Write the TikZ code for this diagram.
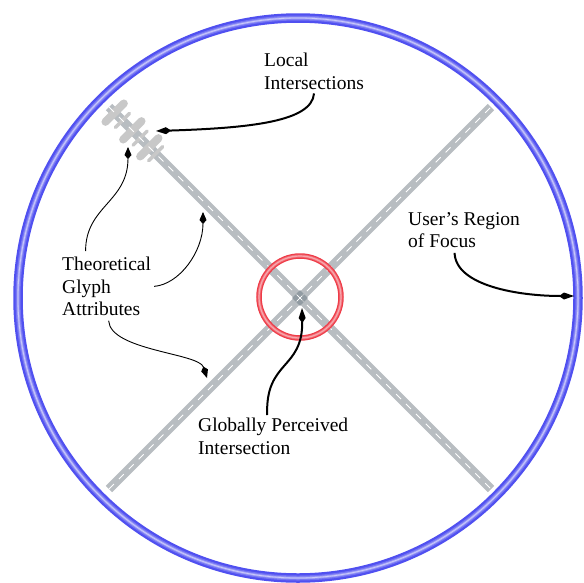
\documentclass[tikz,border=0pt]{standalone}
\usepackage{fontspec}
\setmainfont{Liberation Serif}
\usetikzlibrary{arrows.meta}
\definecolor{rfBlue}{RGB}{80,80,240}
\definecolor{rfRed}{RGB}{238,60,72}
\definecolor{rfRoad}{RGB}{184,189,193}
\definecolor{rfGlyph}{RGB}{200,200,200}
\definecolor{rfCross}{RGB}{145,155,162}

\begin{document}
\begin{tikzpicture}[x=1pt, y=1pt,
  txt/.style={
    anchor=north west, inner sep=0pt, align=left,
    font=\fontsize{19.5}{22.3}\selectfont
  },
  road/.style={draw=rfRoad, line width=9pt},
  lane/.style={draw=white, line width=0.9pt, dash pattern=on 7pt off 7pt},
  bar/.style={draw=rfGlyph, line width=8pt, line cap=round},
  tbar/.style={draw=rfGlyph, line width=3.5pt, line cap=round},
  arr/.style={-{Kite[length=15pt,width=7pt,inset=5pt]}, line width=2pt},
  tarr/.style={-{Kite[length=12pt,width=7pt,inset=4pt]}, line width=0.9pt},
]

\useasboundingbox (0,0) rectangle (584,-582);

%% Region of focus (blue ring)
\coordinate (c) at (298,-298);
\draw[rfBlue, line width=9.5pt]          (c) circle (280pt);
\draw[rfBlue!80!white, line width=5pt]   (c) circle (280pt);
\draw[rfBlue!55!white, line width=2.5pt] (c) circle (280pt);
\draw[rfBlue!30!white, line width=0.8pt] (c) circle (280pt);

%% Roads
\coordinate (nw) at (109,-107);
\coordinate (se) at (491,-489);
\coordinate (sw) at (109,-489);
\coordinate (ne) at (491,-107);
\draw[road] (nw) -- (se);
\draw[road] (sw) -- (ne);

% glyph bars at the local intersections
\begin{scope}[shift={(nw)}, rotate=-45]
  \foreach \s in {8,33,57}{
    \draw[bar] (\s,-13) -- (\s,13);
  }
  \foreach \s in {19,44,66}{
    \draw[tbar] (\s,-10) -- (\s,10);
  }
\end{scope}

\draw[lane] (nw) -- (se);
\draw[lane] (sw) -- (ne);

% crossing patch
\begin{scope}[shift={(300,-298)}, rotate=45]
  \foreach \i/\j in {-1/-1,-1/1,1/-1,1/1}{
    \fill[rfCross] (\i*3.1-2.5, \j*3.1-2.5) rectangle ++(5,5);
  }
\end{scope}

%% Perceived intersection (red ring)
\draw[rfRed, line width=5.5pt]          (300,-297) circle (41pt);
\draw[rfRed!75!white, line width=3pt]   (300,-297) circle (41pt);
\draw[rfRed!45!white, line width=1.2pt] (300,-297) circle (41pt);

%% Labels
\node[txt] (local)  at (264,-53)  {Local\\Intersections};
\node[txt] (focus)  at (408,-212) {User’s Region\\of Focus};
\node[txt] (theo)   at (62,-257)  {Theoretical\\Glyph\\Attributes};
\node[txt] (global) at (198,-418) {Globally Perceived\\Intersection};

% targets
\coordinate (lglyph) at (156,-131);
\coordinate (ring)   at (574,-296);
\coordinate (cross)  at (302,-308);
\coordinate (tglyph) at (128,-147);
\coordinate (troadA) at (203,-212);
\coordinate (troadB) at (207,-378);

%% ── Arrows ──────────────────────────────────────────
\draw[arr] ([yshift=-4pt]local.south)
  .. controls +(-2,-28) and +(95,3) .. (lglyph);
\draw[arr] ([xshift=-9.5pt,yshift=-5pt]focus.south)
  .. controls +(1,-33) and +(-55,0) .. (ring);
\draw[arr] ([xshift=-6pt,yshift=3pt]global.north)
  .. controls +(-2,55) and +(1,-62) .. (cross);

\draw[tarr] ([xshift=-21pt,yshift=6pt]theo.north)
  .. controls +(0,45) and +(0,-55) .. (tglyph);
\draw[tarr] ([xshift=3pt]theo.east)
  .. controls +(25,2) and +(0,-40) .. (troadA);
\draw[tarr] ([xshift=2pt,yshift=-5pt]theo.south)
  .. controls +(2,-30) and +(-8,25) .. (troadB);

\end{tikzpicture}
\end{document}
